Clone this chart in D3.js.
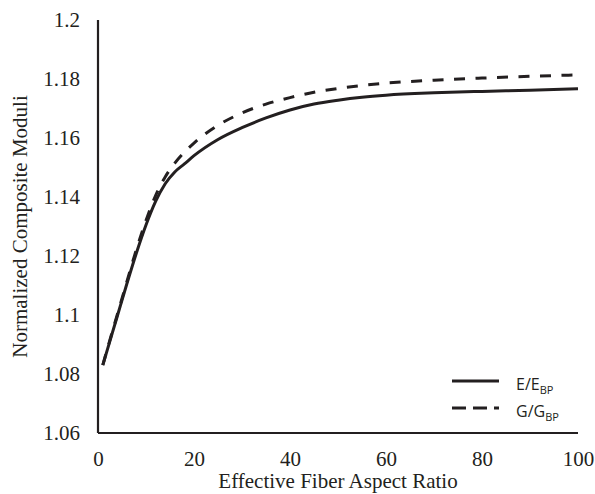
<!DOCTYPE html>
<html>
<head>
<meta charset="utf-8">
<script src="https://cdn.jsdelivr.net/npm/d3@7"></script>
<style>
  html, body { margin: 0; padding: 0; background: #fff; }
  svg { display: block; }
</style>
</head>
<body>
<script>
// ---- data ----
const aspectRatio = [1, 2, 4, 6, 8, 10, 12, 14, 16, 18, 20, 25, 30, 35, 40, 45, 50, 55, 60, 70, 80, 90, 100];
const eRatio = [1.083, 1.0885, 1.0995, 1.1105, 1.121, 1.1305, 1.1385, 1.1445, 1.1485, 1.1512, 1.154, 1.1595, 1.1635, 1.1668, 1.1695, 1.1715, 1.1728, 1.1738, 1.1745, 1.1753, 1.1758, 1.1762, 1.1767];
const gRatio = [1.083, 1.0888, 1.1, 1.1112, 1.1222, 1.132, 1.1405, 1.1468, 1.1515, 1.1552, 1.1583, 1.1643, 1.1685, 1.1715, 1.1737, 1.1755, 1.1768, 1.1778, 1.1786, 1.1796, 1.1803, 1.1809, 1.1814];
const xTicks = [0, 20, 40, 60, 80, 100];
const yTicks = [1.06, 1.08, 1.1, 1.12, 1.14, 1.16, 1.18, 1.2];
const seriesNames = [["E/E", "BP"], ["G/G", "BP"]];
const xTitle = "Effective Fiber Aspect Ratio";
const yTitle = "Normalized Composite Moduli";

(function () {
const W = 595, H = 494;
const ink = "#231f20";
const mL = 98, mR = 578, mT = 20, mB = 433;

const svg = d3.select("body").append("svg").attr("width", W).attr("height", H);

const x = d3.scaleLinear().domain([0, 100]).range([mL, mR]);
const y = d3.scaleLinear().domain([1.06, 1.2]).range([mB, mT]);

const serif = "'Liberation Serif', 'Times New Roman', serif";

// axes
const xAxis = d3.axisBottom(x).tickValues(xTicks).tickSize(0).tickPadding(18).tickFormat(d3.format("d"));
const yAxis = d3.axisLeft(y).tickValues(yTicks).tickSize(0).tickPadding(18).tickFormat(d => String(+d.toFixed(2)));

const gx = svg.append("g").attr("transform", `translate(0,${mB})`).call(xAxis);
const gy = svg.append("g").attr("transform", `translate(${mL},0)`).call(yAxis);
[gx, gy].forEach(g => {
  g.select(".domain").attr("stroke", ink).attr("stroke-width", 2.2);
  g.selectAll("text").attr("font-family", serif).attr("font-size", 21).attr("fill", ink);
});
gy.select(".domain").attr("d", `M0,${mB}V${mT}`);
gx.select(".domain").attr("d", `M${mL},0H${mR}`);

// titles
svg.append("text").attr("x", (mL + mR) / 2).attr("y", 488)
  .attr("text-anchor", "middle").attr("font-family", serif).attr("font-size", 21).attr("fill", ink)
  .text(xTitle);
svg.append("text").attr("transform", `translate(27,${(mT + mB) / 2}) rotate(-90)`)
  .attr("text-anchor", "middle").attr("font-family", serif).attr("font-size", 21).attr("fill", ink)
  .text(yTitle);

// lines
const line = d3.line().x(d => x(d[0])).y(d => y(d[1])).curve(d3.curveMonotoneX);
const eData = aspectRatio.map((a, i) => [a, eRatio[i]]);
const gData = aspectRatio.map((a, i) => [a, gRatio[i]]);

svg.append("path").datum(gData).attr("d", line).attr("fill", "none")
  .attr("stroke", ink).attr("stroke-width", 3).attr("stroke-dasharray", "11,10.5");
svg.append("path").datum(eData).attr("d", line).attr("fill", "none")
  .attr("stroke", ink).attr("stroke-width", 3);

// legend
const sans = "'Open Sans', 'Liberation Sans', sans-serif";
const leg = [
  { name: seriesNames[0], dash: null, y: 381 },
  { name: seriesNames[1], dash: "14,7", y: 408 }
];
leg.forEach(l => {
  svg.append("line").attr("x1", 452).attr("x2", 499).attr("y1", l.y).attr("y2", l.y)
    .attr("stroke", ink).attr("stroke-width", 3).attr("stroke-dasharray", l.dash);
  const t = svg.append("text").attr("x", 516).attr("y", l.y + 9)
    .attr("font-family", sans).attr("font-size", 16).attr("fill", ink);
  t.append("tspan").text(l.name[0]);
  t.append("tspan").attr("font-size", 11).attr("dy", 4).text(l.name[1]);
});
})();
</script>
</body>
</html>
